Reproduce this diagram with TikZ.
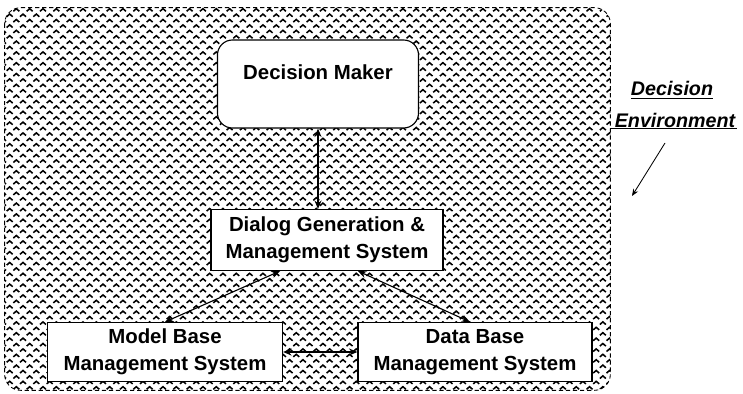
\documentclass[tikz,border=0pt]{standalone}
\usepackage{fontspec}
\setmainfont{Liberation Sans}
\usetikzlibrary{
    arrows.meta,
    positioning,
    calc
}
\tikzset{
    sysbox/.style={draw, thick, fill=white, align=center, inner sep=2pt,
        font=\fontsize{14.5}{19}\selectfont\bfseries},
    link/.style={{Stealth[length=6pt,width=5pt]}-{Stealth[length=6pt,width=5pt]}, thick},
    envlabel/.style={font=\fontsize{14}{16}\selectfont\bfseries\itshape, inner sep=1pt},
    caretline/.style={line width=1.1pt, miter limit=2}
}

\begin{document}
\begin{tikzpicture}[x=0.025cm, y=-0.025cm]
    \useasboundingbox (0, 0) rectangle (743, 394);
    % the environment, filled with rows of little carets
    \node (frame) [minimum width=15.125cm, minimum height=9.55cm] at (307.5, 199) {};
    \begin{scope}
        \clip[rounded corners=0.4cm] (frame.north west) rectangle (frame.south east);
        \draw[caretline]
            \foreach \r [evaluate=\r as \yy using {10+\r*5.4},
                         evaluate=\r as \off using {mod(\r,2)*6.67}] in {0,...,71} {
                \foreach \c in {0,...,46} {
                    (\off+\c*13.33, \yy+1.3) -- ++(3,-2.6) -- ++(3,2.6)
                }
            };
    \end{scope}
    \draw[densely dashed, line width=0.6pt, rounded corners=0.4cm]
        (frame.north west) rectangle (frame.south east);
    % the four parts
    \node (dm) [sysbox, rounded corners=0.375cm, text depth=0.6cm,
        minimum width=5.025cm, minimum height=2.2cm] at (318, 84) {Decision Maker};
    \node (dlg) [sysbox, minimum width=5.8cm, minimum height=1.525cm]
        at (327, 240) {Dialog Generation \&\\Management System};
    \node (mb) [sysbox, minimum width=5.875cm, minimum height=1.475cm]
        at (165, 352) {Model Base\\Management System};
    \node (db) [sysbox, minimum width=5.85cm, minimum height=1.475cm]
        at (475, 352) {Data Base\\Management System};
    % links between them
    \draw[link] (dm.south) -- (dm.south |- dlg.north);
    \draw[link] (mb.north) -- ([xshift=-1.175cm]dlg.south);
    \draw[link] ([xshift=0.775cm]dlg.south) -- ([xshift=-0.125cm]db.north);
    \draw[link] (mb.east) -- (db.west);
    % label outside
    \node (envA) [envlabel] at (672, 90) {\underline{Decision}};
    \node (envB) [envlabel, anchor=base] at (675, 127) {Environment};
    \draw[thick] (frame.east |- envB.south) -- (envB.south east);
    \coordinate (ptrtop) at (665, 143);
    \coordinate (ptrend) at (632, 196);
    \draw[-{Stealth[length=5pt,width=4pt]}, semithick] (ptrtop) -- (ptrend);
\end{tikzpicture}
\end{document}
